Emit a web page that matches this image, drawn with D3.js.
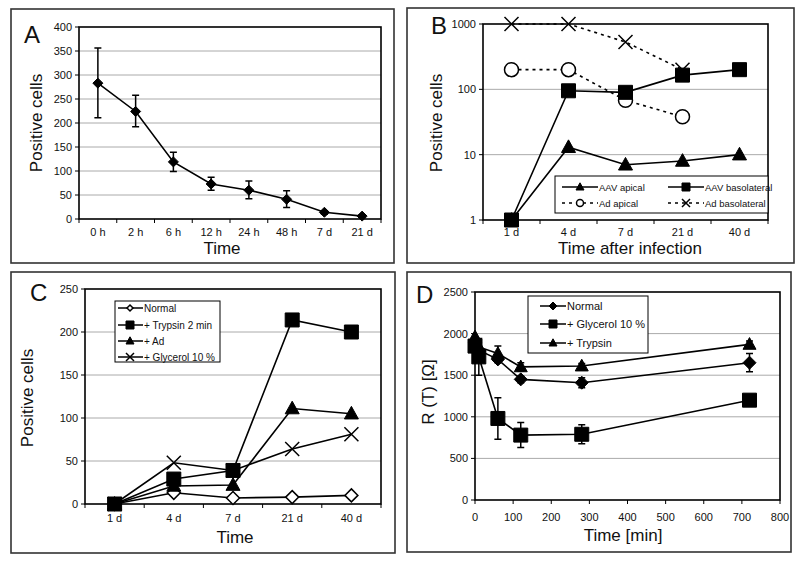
<!DOCTYPE html>
<html><head><meta charset="utf-8">
<script src="https://cdn.jsdelivr.net/npm/d3@7"></script>
<style>body{margin:0;background:#fff} svg{display:block} text{font-family:"Liberation Sans",Arial,sans-serif;fill:#111}</style>
</head><body><svg id="c" width="800" height="562"></svg>
<script>
// ---------- DATA ----------
const timeA = ["0 h","2 h","6 h","12 h","24 h","48 h","7 d","21 d"];
const valA = [283,224,119,73,60,41,14,6];
const errLoA = [211,192,99,60,42,24,10,3];
const errHiA = [356,258,139,87,79,59,17,9];
const yTicksA = [0,50,100,150,200,250,300,350,400];

const daysB = ["1 d","4 d","7 d","21 d","40 d"];
const aavApicalB = [1,13,7,8,10];
const aavBasoB = [1,95,90,165,200];
const adApicalB = [200,200,68,38,null];
const adBasoB = [1000,1000,530,200,null];
const yTicksB = [1,10,100,1000];

const daysC = ["1 d","4 d","7 d","21 d","40 d"];
const normalC = [0,13,7,8,10];
const trypsinC = [0,29,39,214,200];
const adC = [0,21,22,111,105];
const glycerolC = [0,48,39,64,81];
const yTicksC = [0,50,100,150,200,250];

const minutesD = [0,10,60,120,280,720];
const normalD = [1890,1800,1690,1450,1410,1650];
const normalErrD = [0,0,40,40,60,110];
const glycerolD = [1850,1720,980,780,790,1200];
const glycerolErrD = [0,220,250,150,115,0];
const trypsinD = [1960,1840,1760,1600,1610,1870];
const trypsinErrD = [0,0,90,50,30,40];
const xTicksD = [0,100,200,300,400,500,600,700,800];
const yTicksD = [0,500,1000,1500,2000,2500];

// ---------- HELPERS ----------
const svg = d3.select("#c");
function markerPath(type, cx, cy, s){
  if(type==="square") return `M${cx-s},${cy-s}h${2*s}v${2*s}h${-2*s}Z`;
  if(type==="diamond") return `M${cx},${cy-s}L${cx+s},${cy}L${cx},${cy+s}L${cx-s},${cy}Z`;
  if(type==="triangle") return `M${cx},${cy-s*1.05}L${cx+s},${cy+s*0.75}L${cx-s},${cy+s*0.75}Z`;
  if(type==="x") return `M${cx-s},${cy-s}L${cx+s},${cy+s}M${cx+s},${cy-s}L${cx-s},${cy+s}`;
  return "";
}
function drawMarker(g, type, cx, cy, s, open){
  if(type==="circle"){
    g.append("circle").attr("cx",cx).attr("cy",cy).attr("r",s)
     .attr("fill","#fff").attr("stroke","#000").attr("stroke-width",1.5);
  } else if(type==="x"){
    g.append("path").attr("d",markerPath(type,cx,cy,s)).attr("fill","none")
     .attr("stroke","#000").attr("stroke-width",1.5);
  } else {
    g.append("path").attr("d",markerPath(type,cx,cy,s))
     .attr("fill",open?"#fff":"#000").attr("stroke","#000").attr("stroke-width",open?1.5:1);
  }
}
function frame(x0,y0,x1,y1){
  svg.append("rect").attr("x",x0).attr("y",y0).attr("width",x1-x0).attr("height",y1-y0)
    .attr("fill","none").attr("stroke","#333").attr("stroke-width",1.6);
}
function panelLetter(t,x,y){
  svg.append("text").attr("x",x).attr("y",y).attr("font-size",24).text(t);
}
function plotBox(P){
  svg.append("rect").attr("x",P.x0).attr("y",P.y0).attr("width",P.x1-P.x0).attr("height",P.y1-P.y0)
    .attr("fill","none").attr("stroke","#000").attr("stroke-width",1.6);
}
function yAxis(P, y, ticks, fmt){
  const g = svg.append("g");
  ticks.forEach(t=>{
    const yy = y(t);
    if(yy>P.y0+1 && yy<P.y1-1)
      g.append("line").attr("x1",P.x0).attr("x2",P.x1).attr("y1",yy).attr("y2",yy)
        .attr("stroke","#aaa").attr("stroke-width",1);
    g.append("line").attr("x1",P.x0-4).attr("x2",P.x0).attr("y1",yy).attr("y2",yy)
      .attr("stroke","#000").attr("stroke-width",1);
    g.append("text").attr("x",P.x0-7).attr("y",yy+4).attr("text-anchor","end")
      .attr("font-size",11).text(fmt?fmt(t):t);
  });
}
function catAxis(P, x, cats, labelY){
  const g = svg.append("g");
  cats.forEach(c=>{
    g.append("line").attr("x1",x(c)).attr("x2",x(c)).attr("y1",P.y1).attr("y2",P.y1+4)
      .attr("stroke","#000");
    g.append("text").attr("x",x(c)+x.bandwidth()/2).attr("y",labelY).attr("text-anchor","middle")
      .attr("font-size",11).text(c);
  });
  g.append("line").attr("x1",P.x1).attr("x2",P.x1).attr("y1",P.y1).attr("y2",P.y1+4).attr("stroke","#000");
}
function axisTitles(xt, xx, xy, yt, yx, yy){
  svg.append("text").attr("x",xx).attr("y",xy).attr("text-anchor","middle").attr("font-size",17).text(xt);
  svg.append("text").attr("transform",`translate(${yx},${yy}) rotate(-90)`).attr("text-anchor","middle")
    .attr("font-size",17).text(yt);
}
function series(g, pts, dashed){
  const line = d3.line().defined(d=>d[1]!=null).x(d=>d[0]).y(d=>d[1]);
  g.append("path").attr("d",line(pts)).attr("fill","none").attr("stroke","#000")
    .attr("stroke-width",1.6).attr("stroke-dasharray",dashed?"3,4":null);
}
function errBar(g, x, ylo, yhi, cap){
  g.append("path").attr("d",`M${x},${ylo}V${yhi}M${x-cap},${ylo}h${2*cap}M${x-cap},${yhi}h${2*cap}`)
    .attr("stroke","#000").attr("stroke-width",1.5).attr("fill","none");
}

// ---------- PANEL A ----------
frame(11,9,394,263);
const PA = {x0:79,x1:381,y0:27,y1:219};
const xA = d3.scaleBand().domain(timeA).range([PA.x0,PA.x1]);
const yA = d3.scaleLinear().domain([0,400]).range([PA.y1,PA.y0]);
yAxis(PA,yA,yTicksA);
catAxis(PA,xA,timeA,236);
plotBox(PA);
{
  const g = svg.append("g");
  const cx = c=>xA(c)+xA.bandwidth()/2;
  series(g, timeA.map((c,i)=>[cx(c),yA(valA[i])]));
  timeA.forEach((c,i)=>errBar(g,cx(c),yA(errLoA[i]),yA(errHiA[i]),3.5));
  timeA.forEach((c,i)=>drawMarker(g,"diamond",cx(c),yA(valA[i]),5));
}
axisTitles("Time",222,254,"Positive cells",42,123);
panelLetter("A",24,43);

// ---------- PANEL B ----------
frame(407,8,794,263);
const PB = {x0:483,x1:768,y0:24,y1:220};
const xB = d3.scaleBand().domain(daysB).range([PB.x0,PB.x1]);
const yB = d3.scaleLog().domain([1,1000]).range([PB.y1,PB.y0]);
yAxis(PB,yB,yTicksB);
catAxis(PB,xB,daysB,236);
plotBox(PB);
{
  const g = svg.append("g");
  const cx = c=>xB(c)+xB.bandwidth()/2;
  const pts = arr=>daysB.map((c,i)=>[cx(c), arr[i]==null?null:yB(arr[i])]);
  series(g, pts(adBasoB), true);
  series(g, pts(adApicalB), true);
  series(g, pts(aavApicalB), false);
  series(g, pts(aavBasoB), false);
  daysB.forEach((c,i)=>{ if(adApicalB[i]!=null) drawMarker(g,"circle",cx(c),yB(adApicalB[i]),7); });
  daysB.forEach((c,i)=>{ if(adBasoB[i]!=null) drawMarker(g,"x",cx(c),yB(adBasoB[i]),7); });
  daysB.forEach((c,i)=>drawMarker(g,"triangle",cx(c),yB(aavApicalB[i]),7));
  daysB.forEach((c,i)=>drawMarker(g,"square",cx(c),yB(aavBasoB[i]),7));
  // legend
  const L = svg.append("g");
  L.append("rect").attr("x",555).attr("y",176).attr("width",213).attr("height",37)
    .attr("fill","#fff").attr("stroke","#000").attr("stroke-width",1);
  const items = [
    {t:"AAV apical",m:"triangle",d:false,x:562,y:187},
    {t:"AAV basolateral",m:"square",d:false,x:668,y:187},
    {t:"Ad apical",m:"circle",d:true,x:562,y:203},
    {t:"Ad basolateral",m:"x",d:true,x:668,y:203}
  ];
  items.forEach(it=>{
    L.append("line").attr("x1",it.x).attr("x2",it.x+36).attr("y1",it.y).attr("y2",it.y)
      .attr("stroke","#000").attr("stroke-width",1.5).attr("stroke-dasharray",it.d?"3,4":null);
    drawMarker(L,it.m,it.x+18,it.y,it.m==="circle"?3.5:4);
    L.append("text").attr("x",it.x+37).attr("y",it.y+3.5).attr("font-size",9.5).text(it.t);
  });
}
axisTitles("Time after infection",630,254,"Positive cells",442,123);
panelLetter("B",431,34);

// ---------- PANEL C ----------
frame(11,272,395,553);
const PC = {x0:85,x1:381,y0:289,y1:504};
const xC = d3.scaleBand().domain(daysC).range([PC.x0,PC.x1]);
const yC = d3.scaleLinear().domain([0,250]).range([PC.y1,PC.y0]);
yAxis(PC,yC,yTicksC);
catAxis(PC,xC,daysC,522);
plotBox(PC);
{
  const g = svg.append("g");
  const cx = c=>xC(c)+xC.bandwidth()/2;
  const pts = arr=>daysC.map((c,i)=>[cx(c), yC(arr[i])]);
  [normalC,trypsinC,adC,glycerolC].forEach(a=>series(g,pts(a)));
  daysC.forEach((c,i)=>drawMarker(g,"diamond",cx(c),yC(normalC[i]),6.5,true));
  daysC.forEach((c,i)=>drawMarker(g,"x",cx(c),yC(glycerolC[i]),7));
  daysC.forEach((c,i)=>drawMarker(g,"triangle",cx(c),yC(adC[i]),7));
  daysC.forEach((c,i)=>drawMarker(g,"square",cx(c),yC(trypsinC[i]),7));
  const L = svg.append("g");
  L.append("rect").attr("x",115).attr("y",301).attr("width",105).attr("height",61)
    .attr("fill","#fff").attr("stroke","#000").attr("stroke-width",1);
  const items = [
    {t:"Normal",m:"diamond",o:true,y:308},
    {t:"+ Trypsin 2 min",m:"square",y:325},
    {t:"+ Ad",m:"triangle",y:341},
    {t:"+ Glycerol 10 %",m:"x",y:357}
  ];
  items.forEach(it=>{
    L.append("line").attr("x1",118).attr("x2",143).attr("y1",it.y).attr("y2",it.y)
      .attr("stroke","#000").attr("stroke-width",1.5);
    drawMarker(L,it.m,130,it.y,it.m==="diamond"?3:4,it.o);
    L.append("text").attr("x",144).attr("y",it.y+3.5).attr("font-size",10).text(it.t);
  });
}
axisTitles("Time",235,543,"Positive cells",33,398);
panelLetter("C",30,301);

// ---------- PANEL D ----------
frame(407,272,791,552);
const PD = {x0:475,x1:780,y0:292,y1:500};
const xD = d3.scaleLinear().domain([0,800]).range([PD.x0,PD.x1]);
const yD = d3.scaleLinear().domain([0,2500]).range([PD.y1,PD.y0]);
yAxis(PD,yD,yTicksD);
{
  const g = svg.append("g");
  xTicksD.forEach(t=>{
    g.append("line").attr("x1",xD(t)).attr("x2",xD(t)).attr("y1",PD.y1).attr("y2",PD.y1+4).attr("stroke","#000");
    g.append("text").attr("x",xD(t)).attr("y",521).attr("text-anchor","middle").attr("font-size",11).text(t);
  });
}
plotBox(PD);
{
  const g = svg.append("g");
  const pts = arr=>minutesD.map((m,i)=>[xD(m), yD(arr[i])]);
  [normalD,glycerolD,trypsinD].forEach(a=>series(g,pts(a)));
  const errs = [[normalD,normalErrD],[glycerolD,glycerolErrD],[trypsinD,trypsinErrD]];
  errs.forEach(([v,e])=>minutesD.forEach((m,i)=>{ if(e[i]>0) errBar(g,xD(m),yD(v[i]-e[i]),yD(v[i]+e[i]),3.5); }));
  minutesD.forEach((m,i)=>drawMarker(g,"square",xD(m),yD(glycerolD[i]),7));
  minutesD.forEach((m,i)=>drawMarker(g,"diamond",xD(m),yD(normalD[i]),6.5));
  minutesD.forEach((m,i)=>drawMarker(g,"triangle",xD(m),yD(trypsinD[i]),6.5));
  const L = svg.append("g");
  L.append("rect").attr("x",528).attr("y",296).attr("width",120).attr("height",57)
    .attr("fill","#fff").attr("stroke","#000").attr("stroke-width",1);
  const items = [
    {t:"Normal",m:"diamond",y:306},
    {t:"+ Glycerol 10 %",m:"square",y:324},
    {t:"+ Trypsin",m:"triangle",y:343}
  ];
  items.forEach(it=>{
    L.append("line").attr("x1",540).attr("x2",566).attr("y1",it.y).attr("y2",it.y)
      .attr("stroke","#000").attr("stroke-width",1.5);
    drawMarker(L,it.m,553,it.y,4);
    L.append("text").attr("x",567).attr("y",it.y+4).attr("font-size",11).text(it.t);
  });
}
axisTitles("Time [min]",623,541,"R (T) [Ω]",434,392);
panelLetter("D",416,303);
</script></body></html>
